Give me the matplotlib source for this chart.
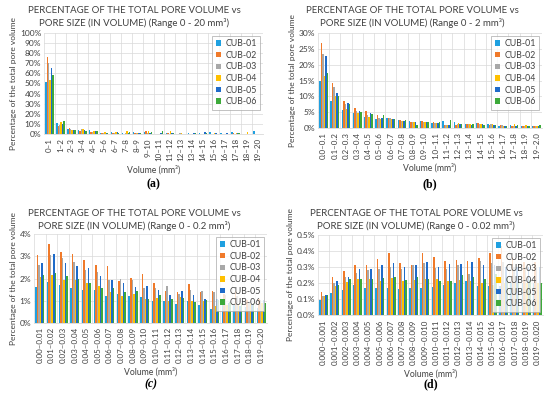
import numpy as np
import matplotlib
matplotlib.use('Agg')
import matplotlib.pyplot as plt
from matplotlib.ticker import PercentFormatter

plt.rcParams['font.family'] = ['Lato', 'DejaVu Sans']

SERIES = ['CUB-01', 'CUB-02', 'CUB-03', 'CUB-04', 'CUB-05', 'CUB-06']
COLORS = ['#1FA0E0', '#F07A2A', '#A8A8A8', '#FFC000', '#1F6BC9', '#3DAA3A']

# (a) range 0 - 20 mm3, values in %
cats_a = [f'{i}\u2013{i + 1}' for i in range(20)]
vals_a = [
    [51, 76, 70, 53, 65, 58],
    [11, 8, 9, 12, 10, 13],
    [5, 6, 5, 4, 4, 4],
    [4, 3, 5, 5, 4, 3],
    [4, 2, 2, 3, 3, 3],
    [1, 1, 1, 2, 1, 1],
    [2, 1, 1, 2, 2, 1],
    [1, 0, 1, 3, 1, 2],
    [2, 1, 1, 1, 1, 1],
    [2, 3, 1, 3, 1, 2],
    [0, 0, 0, 0, 1, 3],
    [1, 1, 0, 3, 1, 1],
    [0, 0, 1, 1, 0, 0],
    [1, 0, 0, 0, 1, 1],
    [1, 0, 0, 0, 2, 1],
    [2, 0, 0, 1, 1, 0],
    [1, 0, 0, 0, 1, 0],
    [2, 1, 0, 1, 1, 1],
    [0, 0, 0, 2, 0, 0],
    [3, 0, 0, 0, 0, 0],
]

# (b) range 0 - 2 mm3
cats_b = [f'{i / 10:.1f}\u2013{(i + 1) / 10:.1f}' for i in range(20)]
vals_b = [
    [14.7, 27.0, 23.5, 16.5, 22.7, 17.5],
    [8.5, 14.3, 13.0, 10.0, 11.2, 10.0],
    [5.8, 8.5, 7.5, 6.0, 8.0, 7.5],
    [4.7, 6.3, 5.5, 4.7, 5.5, 5.0],
    [3.5, 5.3, 4.2, 3.5, 4.6, 4.3],
    [3.0, 4.2, 3.3, 3.0, 3.2, 4.0],
    [3.3, 3.3, 3.3, 3.0, 2.8, 2.7],
    [2.5, 2.5, 2.2, 2.3, 2.3, 2.6],
    [2.2, 2.0, 2.0, 2.0, 1.8, 1.0],
    [2.2, 2.2, 2.0, 2.0, 2.0, 1.8],
    [1.7, 1.8, 1.6, 1.5, 1.5, 1.8],
    [2.2, 1.0, 1.0, 1.0, 1.0, 2.5],
    [1.8, 1.0, 1.2, 1.5, 1.2, 1.2],
    [1.2, 1.2, 1.3, 1.2, 1.0, 1.3],
    [1.5, 1.5, 1.3, 1.2, 1.4, 1.0],
    [1.2, 1.0, 1.2, 1.3, 1.0, 0.8],
    [0.5, 0.8, 0.8, 0.6, 0.6, 0.7],
    [0.8, 0.5, 0.5, 1.2, 0.5, 0.8],
    [0.5, 0.5, 0.5, 0.8, 0.5, 0.6],
    [0.7, 0.7, 0.5, 0.6, 0.5, 1.1],
]

# (c) range 0 - 0.2 mm3
cats_c = [f'{i / 100:.2f}\u2013{(i + 1) / 100:.2f}' for i in range(20)]
vals_c = [
    [1.60, 3.05, 2.60, 2.05, 2.70, 2.15],
    [1.85, 3.55, 3.05, 2.15, 3.12, 2.25],
    [1.70, 3.20, 2.90, 1.95, 2.68, 2.12],
    [1.58, 3.08, 2.72, 1.95, 2.55, 2.00],
    [1.48, 2.82, 2.40, 1.82, 2.48, 1.78],
    [1.48, 2.60, 2.28, 1.65, 2.12, 1.58],
    [1.22, 2.55, 1.92, 1.40, 1.92, 1.58],
    [1.30, 1.90, 2.00, 1.20, 1.82, 1.38],
    [1.22, 2.02, 1.92, 1.32, 1.62, 1.45],
    [1.15, 2.22, 1.58, 1.08, 1.65, 1.08],
    [0.98, 1.82, 1.58, 1.12, 1.48, 1.28],
    [0.98, 1.45, 1.65, 0.98, 1.28, 1.08],
    [0.85, 1.40, 1.30, 1.15, 1.45, 1.12],
    [1.00, 1.75, 1.50, 0.98, 1.25, 0.95],
    [0.80, 1.38, 1.45, 0.98, 1.10, 1.02],
    [0.62, 1.45, 1.38, 0.78, 1.08, 1.05],
    [0.95, 1.32, 1.25, 0.82, 0.92, 0.95],
    [0.82, 1.45, 1.20, 0.85, 0.78, 0.90],
    [0.70, 1.02, 0.92, 0.85, 0.85, 0.90],
    [0.68, 1.10, 1.02, 0.88, 1.05, 0.90],
]

# (d) range 0 - 0.02 mm3
cats_d = [f'{i / 1000:.3f}\u2013{(i + 1) / 1000:.3f}' for i in range(20)]
vals_d = [
    [0.095, 0.145, 0.120, 0.120, 0.125, 0.125],
    [0.140, 0.240, 0.200, 0.180, 0.210, 0.190],
    [0.155, 0.275, 0.240, 0.205, 0.235, 0.225],
    [0.185, 0.310, 0.265, 0.225, 0.285, 0.225],
    [0.170, 0.315, 0.280, 0.225, 0.285, 0.225],
    [0.170, 0.350, 0.285, 0.210, 0.315, 0.230],
    [0.170, 0.385, 0.300, 0.230, 0.325, 0.235],
    [0.165, 0.325, 0.290, 0.215, 0.300, 0.220],
    [0.170, 0.315, 0.315, 0.220, 0.310, 0.240],
    [0.170, 0.390, 0.325, 0.225, 0.330, 0.225],
    [0.175, 0.360, 0.295, 0.225, 0.300, 0.210],
    [0.190, 0.335, 0.285, 0.215, 0.320, 0.215],
    [0.200, 0.345, 0.315, 0.220, 0.320, 0.250],
    [0.215, 0.340, 0.255, 0.215, 0.330, 0.240],
    [0.180, 0.355, 0.335, 0.200, 0.310, 0.225],
    [0.180, 0.390, 0.325, 0.190, 0.310, 0.255],
    [0.180, 0.430, 0.330, 0.200, 0.300, 0.240],
    [0.200, 0.360, 0.300, 0.200, 0.300, 0.220],
    [0.200, 0.330, 0.300, 0.200, 0.300, 0.220],
    [0.200, 0.330, 0.300, 0.200, 0.300, 0.200],
]

W, H = 550, 397
TXT = '#404040'


def px_axes(fig, left, right, top, bottom):
    return fig.add_axes([left / W, 1 - bottom / H, (right - left) / W, (bottom - top) / H])


def draw_panel(fig, box, cats, vals, rng, ymax, ystep, decimals, letter, title_xy, cap_y, italic=False):
    ax = px_axes(fig, *box)
    vals = np.asarray(vals)
    x = np.arange(len(cats))
    group = 0.78
    bw = group / len(SERIES)
    for k, (name, col) in enumerate(zip(SERIES, COLORS)):
        ax.bar(x - group / 2 + bw * (k + 0.5), vals[:, k], width=bw, color=col, label=name, zorder=3)
    ax.set_xlim(-0.5, len(cats) - 0.5)
    ax.set_ylim(0, ymax)
    ax.set_yticks(np.arange(0, ymax + ystep / 2, ystep))
    ax.yaxis.set_major_formatter(PercentFormatter(decimals=decimals))
    ax.set_xticks(x)
    ax.set_xticklabels(cats, rotation=90, fontsize=5.8, color=TXT)
    ax.set_xticks(np.arange(-0.5, len(cats), 1), minor=True)
    ax.tick_params(axis='x', which='both', length=0, pad=3)
    ax.tick_params(axis='y', length=0, labelsize=6, labelcolor=TXT, pad=2)
    ax.grid(True, axis='y', color='#D9D9D9', linewidth=0.5, zorder=0)
    ax.grid(True, axis='x', which='minor', color='#D9D9D9', linewidth=0.5, zorder=0)
    for s in ['top', 'right', 'left']:
        ax.spines[s].set_visible(False)
    ax.spines['bottom'].set_color('#D9D9D9')
    ax.spines['bottom'].set_linewidth(0.6)
    ax.set_xlabel('Volume (mm\u00b3)', fontsize=6.2, color=TXT, labelpad=3)
    ax.set_ylabel('Percentage of the total pore volume', fontsize=6, color=TXT, labelpad=2)
    tx, ty = title_xy
    fig.text(tx / W, 1 - ty / H,
             'PERCENTAGE OF THE TOTAL PORE VOLUME vs\nPORE SIZE (IN VOLUME) (Range ' + rng + ' mm\u00b3)',
             ha='center', va='top', fontsize=6.9, color=TXT, linespacing=1.35)
    leg = ax.legend(loc='upper right', fontsize=6.3, frameon=True, fancybox=False, handlelength=0.6,
                    handleheight=0.6, handletextpad=0.5, borderpad=0.4, labelspacing=0.3,
                    borderaxespad=0.3)
    leg.get_frame().set_edgecolor('#A6A6A6')
    leg.get_frame().set_linewidth(0.6)
    leg.set_zorder(5)
    for t in leg.get_texts():
        t.set_color(TXT)
    cx = (box[0] + box[1]) / 2 / W
    fig.text(cx, 1 - cap_y / H, f'({letter})', ha='center', va='center', fontsize=8.5,
             family='Liberation Serif', weight='bold', style='italic' if italic else 'normal')
    return ax


fig = plt.figure(figsize=(W / 100, H / 100), dpi=100)
draw_panel(fig, (44, 263, 33, 134), cats_a, vals_a, '0 - 20', 100, 10, 0, 'a', (134, 6), 184)
draw_panel(fig, (318, 542, 33, 128), cats_b, vals_b, '0 - 2', 30, 5, 0, 'b', (412, 6), 184)
draw_panel(fig, (34, 267, 234, 323), cats_c, vals_c, '0 - 0.2', 4, 1, 0, 'c', (134, 209), 384, italic=True)
draw_panel(fig, (318, 543, 235, 315), cats_d, vals_d, '0 - 0.02', 0.5, 0.1, 1, 'd', (416, 209), 384)
fig.savefig('out.png', dpi=100)
